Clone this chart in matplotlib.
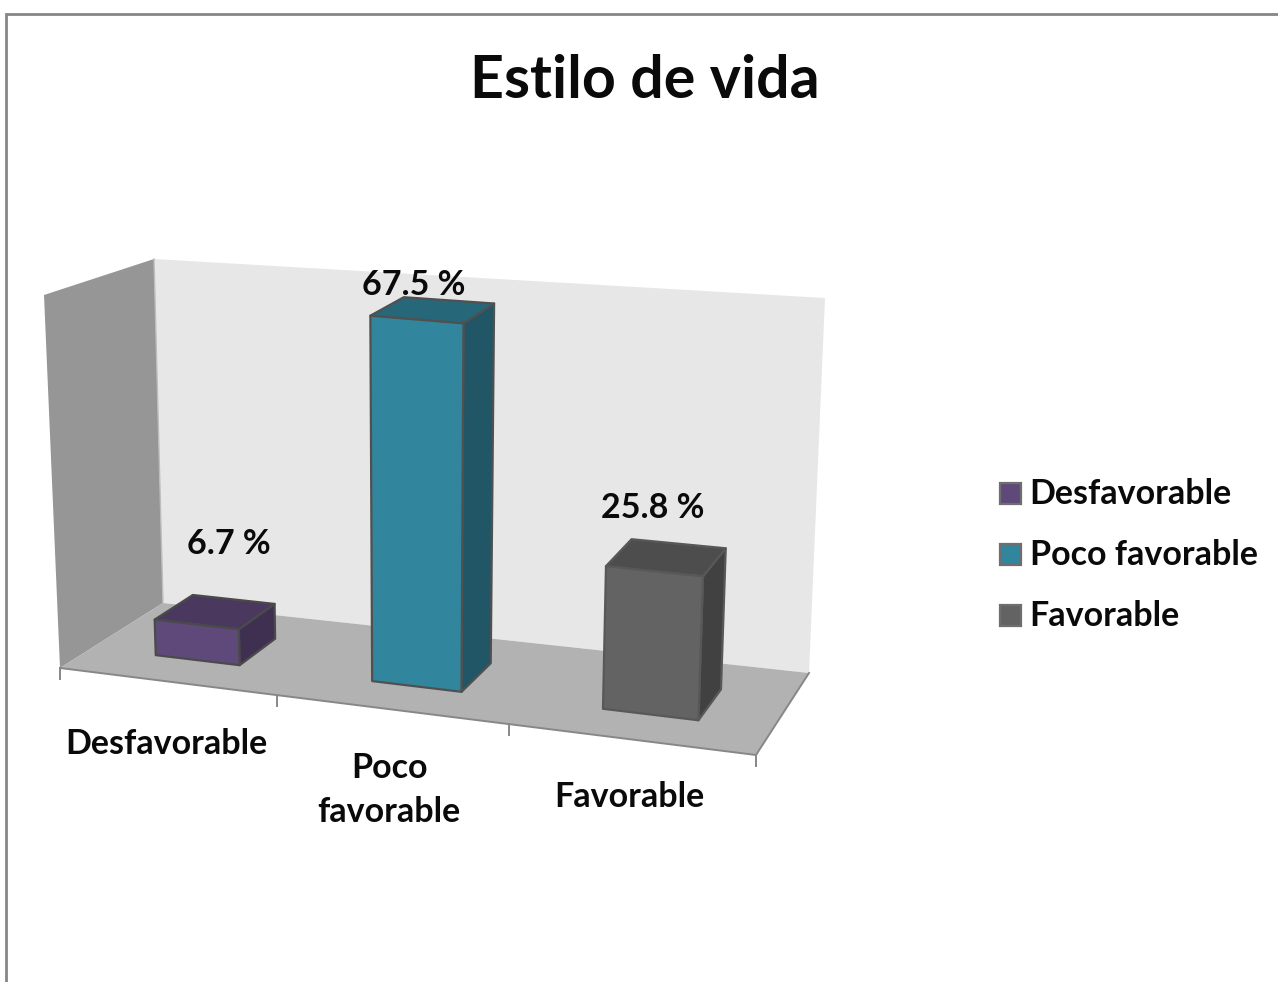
import numpy as np
import matplotlib
matplotlib.use("Agg")
import matplotlib.pyplot as plt
from matplotlib.patches import Polygon, Rectangle

# --- data ---
title = "Estilo de vida"
categories = ["Desfavorable", "Poco favorable", "Favorable"]
axis_labels = ["Desfavorable", "Poco\nfavorable", "Favorable"]
values = [6.7, 67.5, 25.8]
value_labels = ["6.7 %", "67.5 %", "25.8 %"]

# --- style ---
front_cols = ["#5F497A", "#31859C", "#636363"]
top_cols = ["#4A385F", "#26687A", "#4D4D4D"]
side_cols = ["#3F3052", "#205665", "#414141"]
edge_cols = ["#4A4A4A", "#505050", "#585858"]
W, H = 1278, 982
AXIS_MAX = 69.0
BAR_U = (0.305, 0.70)
BAR_W = (0.315, 0.70)
PERSPECTIVE = 0.907
# projection box corners in pixels: (u,w,v) u=right, w=depth, v=up
BOX = {
    (0, 0, 0): (60, 668), (1, 0, 0): (756, 755),
    (0, 1, 0): (163, 603), (1, 1, 0): (809, 673),
    (0, 0, 1): (44, 295), (1, 0, 1): (771, 362),
    (0, 1, 1): (154, 259), (1, 1, 1): (825, 298),
}
n = len(categories)


def proj(cat, value, depth):
    """Map category position, value and depth to picture pixels."""
    t = cat / n
    u = PERSPECTIVE * t / (1 + (PERSPECTIVE - 1) * t)
    v, w = value / AXIS_MAX, depth
    p = np.zeros(2)
    for (a, b, c), xy in BOX.items():
        p += (u if a else 1 - u) * (w if b else 1 - w) * (v if c else 1 - v) * np.array(xy)
    return tuple(p)


plt.rcParams["font.family"] = ["Lato", "DejaVu Sans"]
fig = plt.figure(figsize=(W / 100, H / 100), dpi=100)
ax = fig.add_axes([0, 0, 1, 1])
ax.set_xlim(0, W)
ax.set_ylim(H, 0)
ax.axis("off")

# chart frame
ax.plot([6, 6, W], [H, 14, 14], color="#868686", lw=2.0, solid_joinstyle="miter")

# walls and floor
ax.add_patch(Polygon([proj(0, 0, 0), proj(0, 0, 1), proj(0, AXIS_MAX, 1), proj(0, AXIS_MAX, 0)],
                     fc="#969696", ec="none"))
ax.add_patch(Polygon([proj(0, 0, 1), proj(n, 0, 1), proj(n, AXIS_MAX, 1), proj(0, AXIS_MAX, 1)],
                     fc="#E7E7E7", ec="none"))
ax.plot(*zip(proj(0, 0, 1), proj(0, AXIS_MAX, 1)), color="#BDBDBD", lw=1)
ax.add_patch(Polygon([proj(0, 0, 0), proj(n, 0, 0), proj(n, 0, 1), proj(0, 0, 1)],
                     fc="#B2B2B2", ec="none"))
ax.plot(*zip(proj(0, 0, 0), proj(n, 0, 0), proj(n, 0, 1)), color="#878787", lw=1.4)

# category ticks
for i in range(n + 1):
    x, y = proj(i, 0, 0)
    ax.plot([x, x], [y, y + 11], color="#878787", lw=1.4)

# bars
for i, val in enumerate(values):
    u0, u1 = i + BAR_U[0], i + BAR_U[1]
    w0, w1 = BAR_W
    kw = dict(ec=edge_cols[i], lw=1.6, joinstyle="round")
    ax.add_patch(Polygon([proj(u1, 0, w0), proj(u1, val, w0), proj(u1, val, w1), proj(u1, 0, w1)],
                         fc=side_cols[i], **kw))
    ax.add_patch(Polygon([proj(u0, val, w0), proj(u1, val, w0), proj(u1, val, w1), proj(u0, val, w1)],
                         fc=top_cols[i], **kw))
    ax.add_patch(Polygon([proj(u0, 0, w0), proj(u1, 0, w0), proj(u1, val, w0), proj(u0, val, w0)],
                         fc=front_cols[i], **kw))

txt = dict(fontweight="bold", color="#0A0A0A", ha="center", va="center")
FS = 24.5

# value labels
label_offset = [(14, -68), (-19, -25), (-14, -50)]
for i, (val, lab) in enumerate(zip(values, value_labels)):
    x, y = proj(i + 0.505, val, 0.5)
    dx, dy = label_offset[i]
    ax.text(x + dx, y + dy, lab, fontsize=FS, **txt)

# axis labels
label_xy = [(166, 744), (389, 790), (629, 797)]
for (x, y), lab in zip(label_xy, axis_labels):
    ax.text(x, y, lab, fontsize=FS, linespacing=1.5, **txt)

# title
ax.text(645, 81, title, fontsize=42.6, **txt)

# legend
for i, (lab, col) in enumerate(zip(categories, front_cols)):
    y = 493 + i * 61
    ax.add_patch(Rectangle((999.5, y - 10.5), 21, 21, fc=col, ec="#6E6E6E", lw=1.6))
    ax.text(1029.5, y + 1, lab, fontsize=FS, fontweight="bold", color="#0A0A0A", ha="left", va="center")

fig.savefig("out.png", dpi=100, facecolor="white")
